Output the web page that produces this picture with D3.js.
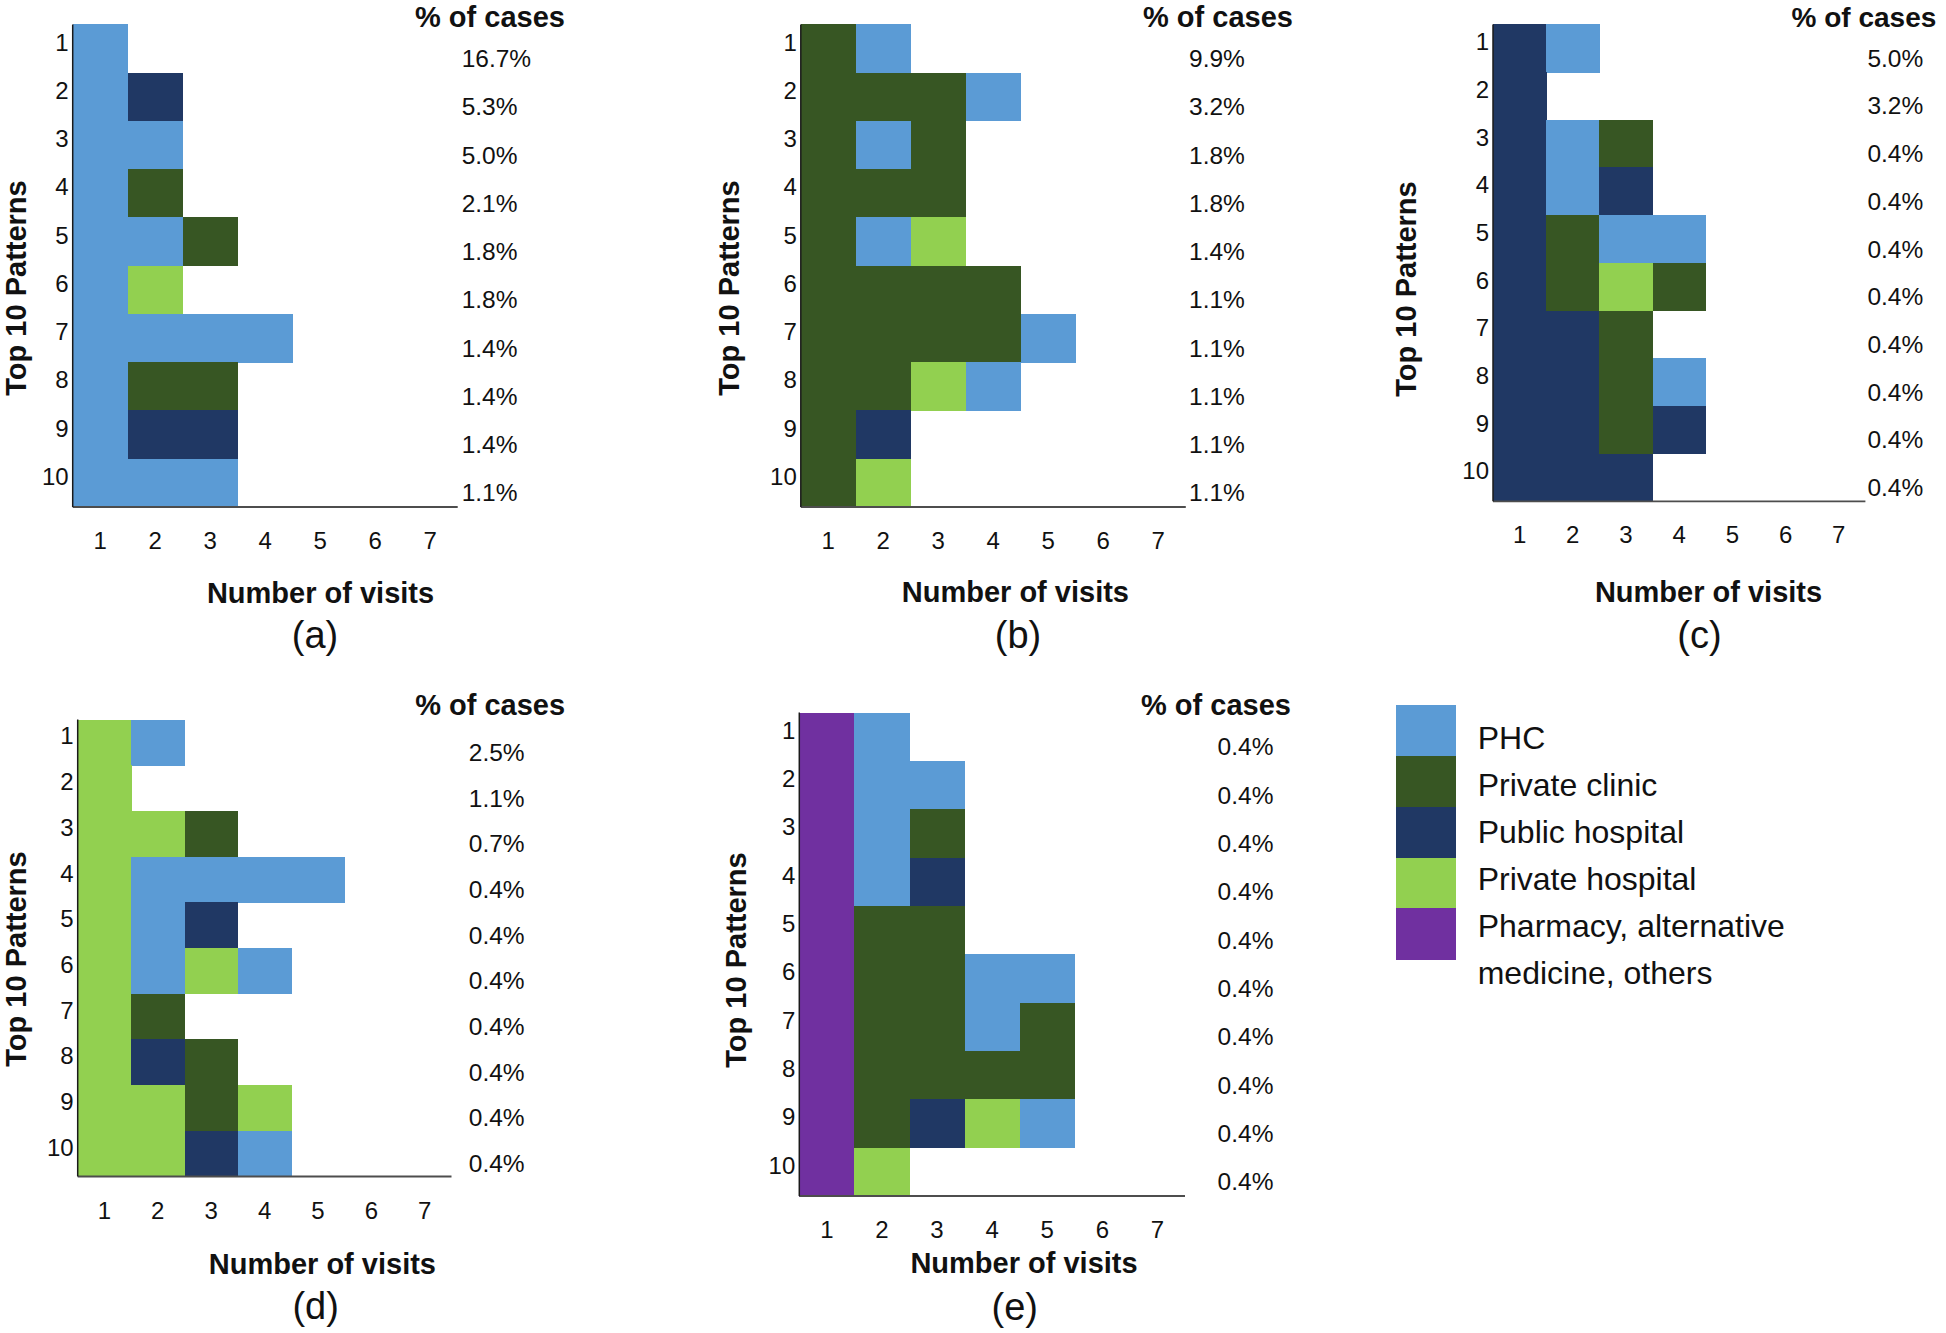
<!DOCTYPE html>
<html>
<head>
<meta charset="utf-8">
<script src="https://cdn.jsdelivr.net/npm/d3@7"></script>
<style>
  html, body { margin: 0; padding: 0; background: #fff; }
  svg { display: block; font-family: "Liberation Sans", Arial, Helvetica, sans-serif; }
</style>
</head>
<body>
<svg id="chart" width="1946" height="1333"></svg>
<script>
// ---------- DATA ----------
const PHC = "PHC";
const PCL = "Private clinic";
const PUB = "Public hospital";
const PRH = "Private hospital";
const OTH = "Pharmacy, alternative medicine, others";

const categories = [PHC, PCL, PUB, PRH, OTH];
const legendLines = [["PHC"], ["Private clinic"], ["Public hospital"], ["Private hospital"], ["Pharmacy, alternative", "medicine, others"]];
const categoryColors = ["#5b9bd5", "#375623", "#203864", "#92d050", "#7030a0"];

const visitTicks = [1, 2, 3, 4, 5, 6, 7];
const patternTicks = [1, 2, 3, 4, 5, 6, 7, 8, 9, 10];
const panelLabels = ["(a)", "(b)", "(c)", "(d)", "(e)"];

const patternsA = [[PHC], [PHC, PUB], [PHC, PHC], [PHC, PCL], [PHC, PHC, PCL], [PHC, PRH],
  [PHC, PHC, PHC, PHC], [PHC, PCL, PCL], [PHC, PUB, PUB], [PHC, PHC, PHC]];
const casesA = [16.7, 5.3, 5.0, 2.1, 1.8, 1.8, 1.4, 1.4, 1.4, 1.1];

const patternsB = [[PCL, PHC], [PCL, PCL, PCL, PHC], [PCL, PHC, PCL], [PCL, PCL, PCL], [PCL, PHC, PRH],
  [PCL, PCL, PCL, PCL], [PCL, PCL, PCL, PCL, PHC], [PCL, PCL, PRH, PHC], [PCL, PUB], [PCL, PRH]];
const casesB = [9.9, 3.2, 1.8, 1.8, 1.4, 1.1, 1.1, 1.1, 1.1, 1.1];

const patternsC = [[PUB, PHC], [PUB], [PUB, PHC, PCL], [PUB, PHC, PUB], [PUB, PCL, PHC, PHC],
  [PUB, PCL, PRH, PCL], [PUB, PUB, PCL], [PUB, PUB, PCL, PHC], [PUB, PUB, PCL, PUB], [PUB, PUB, PUB]];
const casesC = [5.0, 3.2, 0.4, 0.4, 0.4, 0.4, 0.4, 0.4, 0.4, 0.4];

const patternsD = [[PRH, PHC], [PRH], [PRH, PRH, PCL], [PRH, PHC, PHC, PHC, PHC], [PRH, PHC, PUB],
  [PRH, PHC, PRH, PHC], [PRH, PCL], [PRH, PUB, PCL], [PRH, PRH, PCL, PRH], [PRH, PRH, PUB, PHC]];
const casesD = [2.5, 1.1, 0.7, 0.4, 0.4, 0.4, 0.4, 0.4, 0.4, 0.4];

const patternsE = [[OTH, PHC], [OTH, PHC, PHC], [OTH, PHC, PCL], [OTH, PHC, PUB], [OTH, PCL, PCL],
  [OTH, PCL, PCL, PHC, PHC], [OTH, PCL, PCL, PHC, PCL], [OTH, PCL, PCL, PCL, PCL], [OTH, PCL, PUB, PRH, PHC], [OTH, PRH]];
const casesE = [0.4, 0.4, 0.4, 0.4, 0.4, 0.4, 0.4, 0.4, 0.4, 0.4];

const panelPatterns = [patternsA, patternsB, patternsC, patternsD, patternsE];
const panelCases = [casesA, casesB, casesC, casesD, casesE];

// ---------- LAYOUT (positions only) ----------
const layout = [
  { left: 72.7, top: 24.4, bottom: 507, colW: 55.0, pctX: 461.7, headX: 415, headY: 27, headSize: 29,
    yTitleX: 26, yTitleY: 288, xTitleX: 320.5, xTitleY: 603, labX: 315, labY: 648 },
  { left: 800.8, top: 24.4, bottom: 507, colW: 55.0, pctX: 1189, headX: 1143, headY: 27, headSize: 29,
    yTitleX: 738.5, yTitleY: 288, xTitleX: 1015.4, xTitleY: 602, labX: 1018, labY: 648 },
  { left: 1493, top: 24.4, bottom: 501.3, colW: 53.2, pctX: 1867.4, headX: 1791.6, headY: 27, headSize: 28,
    yTitleX: 1416, yTitleY: 289, xTitleX: 1708.5, xTitleY: 602, labX: 1699.5, labY: 648 },
  { left: 77.7, top: 719.6, bottom: 1176.5, colW: 53.4, pctX: 468.8, headX: 415.2, headY: 715, headSize: 29,
    yTitleX: 26, yTitleY: 959, xTitleX: 322.4, xTitleY: 1273.5, labX: 315.7, labY: 1319 },
  { left: 799.3, top: 712.5, bottom: 1196, colW: 55.1, pctX: 1217.6, headX: 1141, headY: 715, headSize: 29,
    yTitleX: 746, yTitleY: 960, xTitleX: 1024, xTitleY: 1273, labX: 1014.8, labY: 1320 }
];
const legendLayout = { x: 1395.5, w: 60, top: 705, bottom: 959.3, textX: 1477.7, firstBaseline: 749, lineGap: 47 };

// ---------- DRAW ----------
const svg = d3.select("#chart");
svg.append("rect").attr("width", 1946).attr("height", 1333).attr("fill", "#fff");

const color = d3.scaleOrdinal().domain(categories).range(categoryColors);
const fmtPct = v => d3.format(".1f")(v) + "%";

panelPatterns.forEach((patterns, p) => {
  const L = layout[p];
  const g = svg.append("g");
  const x = d3.scaleBand().domain(visitTicks).range([L.left, L.left + L.colW * visitTicks.length]);
  const y = d3.scaleBand().domain(patternTicks).range([L.top, L.bottom]);

  const cells = [];
  patterns.forEach((seq, i) => seq.forEach((cat, j) => cells.push({ rank: patternTicks[i], visit: visitTicks[j], cat })));

  g.selectAll("rect.cell").data(cells).join("rect")
    .attr("class", "cell")
    .attr("x", d => x(d.visit))
    .attr("y", d => y(d.rank))
    .attr("width", x.bandwidth() + 0.5)
    .attr("height", y.bandwidth() + 0.5)
    .attr("fill", d => color(d.cat))
    .attr("shape-rendering", "crispEdges");

  // axes lines
  g.append("line")
    .attr("x1", L.left).attr("x2", x.range()[1])
    .attr("y1", L.bottom).attr("y2", L.bottom)
    .attr("stroke", "#4d4d4d").attr("stroke-width", 1.8);
  g.append("line")
    .attr("x1", L.left).attr("x2", L.left)
    .attr("y1", L.top).attr("y2", L.bottom)
    .attr("stroke", "#1a1a1a").attr("stroke-width", 1.5);

  // y tick labels
  g.selectAll("text.ytick").data(patternTicks).join("text")
    .attr("class", "ytick")
    .attr("x", L.left - 4)
    .attr("y", d => y(d) + y.bandwidth() / 2 + 2)
    .attr("text-anchor", "end")
    .attr("font-size", 24)
    .attr("fill", "#111")
    .text(d => d);

  // x tick labels
  g.selectAll("text.xtick").data(visitTicks).join("text")
    .attr("class", "xtick")
    .attr("x", d => x(d) + x.bandwidth() / 2)
    .attr("y", L.bottom + 42)
    .attr("text-anchor", "middle")
    .attr("font-size", 24)
    .attr("fill", "#111")
    .text(d => d);

  // % of cases
  g.append("text")
    .attr("x", L.headX).attr("y", L.headY)
    .attr("font-size", L.headSize).attr("font-weight", "bold").attr("fill", "#111")
    .text("% of cases");

  g.selectAll("text.pct").data(panelCases[p]).join("text")
    .attr("class", "pct")
    .attr("x", L.pctX)
    .attr("y", (d, i) => y(patternTicks[i]) + y.bandwidth() / 2 + 18.5)
    .attr("font-size", 24.5)
    .attr("fill", "#111")
    .text(d => fmtPct(d));

  // axis titles
  g.append("text")
    .attr("transform", `translate(${L.yTitleX},${L.yTitleY}) rotate(-90)`)
    .attr("text-anchor", "middle")
    .attr("font-size", 29).attr("font-weight", "bold").attr("fill", "#111")
    .text("Top 10 Patterns");
  g.append("text")
    .attr("x", L.xTitleX).attr("y", L.xTitleY)
    .attr("text-anchor", "middle")
    .attr("font-size", 29).attr("font-weight", "bold").attr("fill", "#111")
    .text("Number of visits");

  // panel label
  g.append("text")
    .attr("x", L.labX).attr("y", L.labY)
    .attr("text-anchor", "middle")
    .attr("font-size", 38).attr("fill", "#111")
    .text(panelLabels[p]);
});

// legend
const lg = svg.append("g");
const ly = d3.scaleBand().domain(categories).range([legendLayout.top, legendLayout.bottom]);
lg.selectAll("rect").data(categories).join("rect")
  .attr("x", legendLayout.x).attr("y", d => ly(d))
  .attr("width", legendLayout.w).attr("height", ly.bandwidth() + 0.5)
  .attr("fill", d => color(d))
  .attr("shape-rendering", "crispEdges");

let lineIdx = 0;
legendLines.forEach(lines => {
  lines.forEach(line => {
    lg.append("text")
      .attr("x", legendLayout.textX)
      .attr("y", legendLayout.firstBaseline + lineIdx * legendLayout.lineGap)
      .attr("font-size", 32).attr("fill", "#111")
      .text(line);
    lineIdx++;
  });
});
</script>
</body>
</html>
